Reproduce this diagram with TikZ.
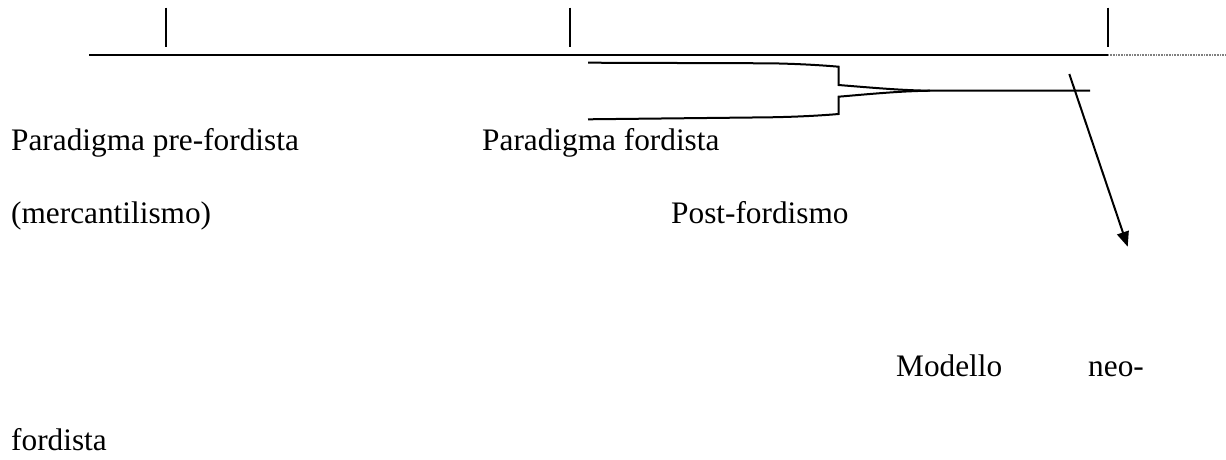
\documentclass[tikz,border=0pt]{standalone}
\usepackage{fontspec}
\setmainfont{Liberation Serif}
\usetikzlibrary{arrows.meta}
\begin{document}
\begin{tikzpicture}[x=1pt,y=-1pt,
  lbl/.style={anchor=base west,inner sep=0pt,font=\fontsize{31.3}{36}\selectfont},
  axis/.style={line width=2pt},
  tick/.style={line width=1.8pt},
  brace/.style={line width=2pt,line join=miter},
  arr/.style={line width=2pt,-{Triangle[length=15pt,width=12pt]}},
  ext/.style={line width=1.4pt,gray,dash pattern=on 1pt off 0.6pt}]
\useasboundingbox (0,0) rectangle (1226,459);
% timeline
\coordinate (a0) at (89,55);
\coordinate (a1) at (1108,55);
\coordinate (a2) at (1226,55);
\draw[axis] (a0) -- (a1);
\draw[ext] (a1) -- (a2);
% ticks
\coordinate (t1a) at (166,7.5); \coordinate (t1b) at (166,47);
\coordinate (t2a) at (570,7.5); \coordinate (t2b) at (570,47);
\coordinate (t3a) at (1108,7.5); \coordinate (t3b) at (1108,47);
\draw[tick] (t1a) -- (t1b);
\draw[tick] (t2a) -- (t2b);
\draw[tick] (t3a) -- (t3b);
% brace
\coordinate (bt) at (588,62.7);
\coordinate (bb) at (588,119.3);
\coordinate (tip) at (930,90.7);
\coordinate (bend) at (1090,90.7);
\draw[brace] (bt) -- (770,63.3) .. controls (800,63.8) and (825,65.5) .. (838.5,66.7)
  -- (838.5,85) .. controls (870,87.5) and (900,90.3) .. (tip) -- (bend);
\draw[brace] (tip) .. controls (900,91.1) and (870,94) .. (838.5,96.7)
  -- (838.5,114) .. controls (825,115.2) and (800,116.8) .. (770,117.3) -- (bb);
% arrow
\coordinate (as) at (1069.3,74);
\coordinate (ae) at (1127.7,246.7);
\draw[arr] (as) -- (ae);
% labels
\node[lbl] (n1) at (11,150) {Paradigma pre-fordista};
\node[lbl] (n2) at (482,150) {Paradigma fordista};
\node[lbl] (n3) at (11,223) {(mercantilismo)};
\node[lbl] (n4) at (671,223) {Post-fordismo};
\node[lbl] (n5) at (896,376) {Modello};
\node[lbl] (n6) at (1088,376) {neo-};
\node[lbl] (n7) at (11,450) {fordista};
\end{tikzpicture}
\end{document}
